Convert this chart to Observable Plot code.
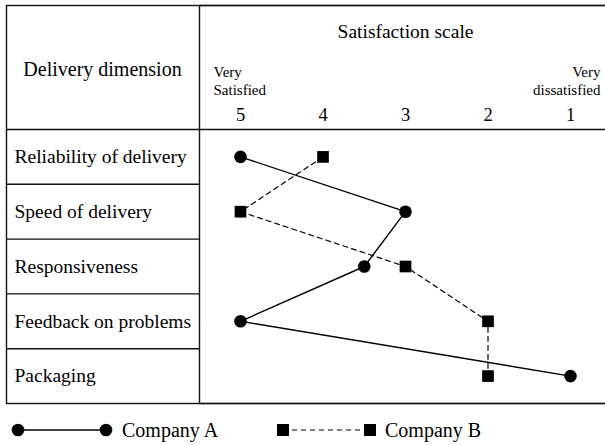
<!DOCTYPE html>
<html>
<head>
<meta charset="utf-8">
<script src="https://cdn.jsdelivr.net/npm/d3@7"></script>
<script src="https://cdn.jsdelivr.net/npm/@observablehq/plot@0.6"></script>
<style>
  html, body { margin: 0; padding: 0; background: #fff; }
  body { width: 605px; height: 445px; overflow: hidden; font-family: "Liberation Serif", "Times New Roman", serif; color: #000; }
  #chart svg { display: block; }
  #legend { position: relative; height: 39px; font-size: 20px; }
  #legend .item { position: absolute; top: 16px; display: flex; align-items: center; }
  #legend .lab { position: absolute; top: 13px; line-height: 22px; }
</style>
</head>
<body>
<div id="chart"></div>
<div id="legend"></div>
<script>
// ---- data ----
const dimensions = ["Reliability of delivery", "Speed of delivery", "Responsiveness", "Feedback on problems", "Packaging"];
const companyA = [5, 3, 3.5, 5, 1];
const companyB = [4, 5, 3, 2, 2];
const scaleTicks = [5, 4, 3, 2, 1];
const scaleLow = "Very\nSatisfied";
const scaleHigh = "Very\ndissatisfied";
const headerLeft = "Delivery dimension";
const headerRight = "Satisfaction scale";
const seriesNames = ["Company A", "Company B"];

const rowsA = dimensions.map((d, i) => ({dim: d, i, v: companyA[i]}));
const rowsB = dimensions.map((d, i) => ({dim: d, i, v: companyB[i]}));
const seps = dimensions.slice(1).map((d, i) => i + 0.5);

const ink = "#111";
const font = "'Liberation Serif', 'Times New Roman', serif";

const chart = Plot.plot({
  width: 605,
  height: 406,
  marginLeft: 199,
  marginRight: 0,
  marginTop: 129,
  marginBottom: 3,
  style: {fontFamily: font, background: "#fff", color: "#000", overflow: "visible"},
  x: {domain: [5, 1], insetLeft: 41, insetRight: 35},
  y: {domain: [4.5, -0.5], axis: null},
  marks: [
    // table structure
    Plot.frame({insetLeft: -193, insetTop: -124, insetRight: -10, stroke: ink, strokeWidth: 1.4}),
    Plot.frame({insetTop: -124, insetRight: -10, stroke: ink, strokeWidth: 1.4}),
    Plot.ruleY([-0.5], {insetLeft: -193, insetRight: -10, stroke: ink, strokeWidth: 1.4}),
    Plot.ruleY(seps, {insetLeft: -193, insetRight: 406, stroke: ink, strokeWidth: 1.4}),
    // header
    Plot.text([headerRight], {frameAnchor: "top", dx: 3, dy: -92, lineAnchor: "bottom", fontSize: 19.5, fill: "#000"}),
    Plot.text([headerLeft], {frameAnchor: "top-left", dx: -97, dy: -54, lineAnchor: "bottom", textAnchor: "middle", fontSize: 20, fill: "#000"}),
    Plot.text([scaleLow], {frameAnchor: "top-left", dx: 14, dy: -35, lineAnchor: "bottom", textAnchor: "start", fontSize: 15, lineHeight: 1.2, fill: "#000"}),
    Plot.text([scaleHigh], {frameAnchor: "top-right", dx: -5, dy: -35, lineAnchor: "bottom", textAnchor: "end", fontSize: 15, lineHeight: 1.2, fill: "#000"}),
    Plot.axisX(scaleTicks, {anchor: "top", tickSize: 0, tickPadding: 9, fontSize: 18.5, label: null, tickFormat: d => String(d), fill: "#000"}),
    // row labels
    Plot.text(dimensions, {y: (d, i) => i, frameAnchor: "left", dx: -185, textAnchor: "start", fontSize: 19.5, fill: "#000"}),
    // series
    Plot.line(rowsA, {x: "v", y: "i", stroke: "#000", strokeWidth: 1.4}),
    Plot.line(rowsB, {x: "v", y: "i", stroke: "#000", strokeWidth: 1.2, strokeDasharray: "5,4"}),
    Plot.dot(rowsA, {x: "v", y: "i", symbol: "circle", r: 6.3, fill: "#000", stroke: null}),
    Plot.dot(rowsB, {x: "v", y: "i", symbol: "square", r: 6.6, fill: "#000", stroke: null})
  ]
});
document.getElementById("chart").appendChild(chart);

// ---- legend ----
const legend = d3.select("#legend");
const a = legend.append("div").attr("class", "item").style("left", "11px");
const sa = a.append("svg").attr("width", 104).attr("height", 16);
sa.append("line").attr("x1", 7).attr("x2", 95).attr("y1", 8).attr("y2", 8).attr("stroke", "#000").attr("stroke-width", 1.4);
sa.append("circle").attr("cx", 7).attr("cy", 8).attr("r", 6.3);
sa.append("circle").attr("cx", 95).attr("cy", 8).attr("r", 6.3);
legend.append("div").attr("class", "lab").style("left", "122px").text(seriesNames[0]);

const b = legend.append("div").attr("class", "item").style("left", "276px");
const sb = b.append("svg").attr("width", 104).attr("height", 16);
sb.append("line").attr("x1", 7).attr("x2", 94).attr("y1", 8).attr("y2", 8).attr("stroke", "#000").attr("stroke-width", 1.2).attr("stroke-dasharray", "5,4");
sb.append("rect").attr("x", 1).attr("y", 2).attr("width", 12).attr("height", 12);
sb.append("rect").attr("x", 88).attr("y", 2).attr("width", 12).attr("height", 12);
legend.append("div").attr("class", "lab").style("left", "385px").text(seriesNames[1]);
</script>
</body>
</html>
